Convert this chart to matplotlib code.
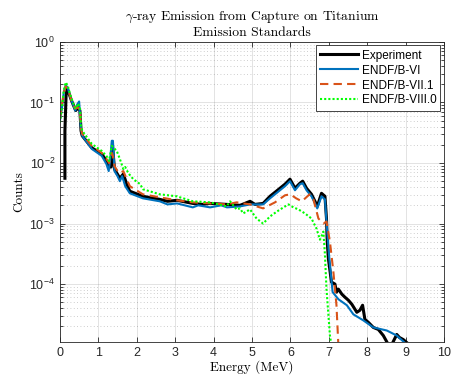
import numpy as np
import matplotlib
matplotlib.use('Agg')
import matplotlib.pyplot as plt
from matplotlib.ticker import LogLocator, NullFormatter

plt.rcParams['font.family'] = ['Liberation Sans', 'DejaVu Sans']
plt.rcParams['mathtext.fontset'] = 'custom'
plt.rcParams['mathtext.rm'] = 'Liberation Sans'
plt.rcParams['mathtext.it'] = 'Liberation Sans:italic'

# Experiment (black)
e_exp = [0.13, 0.13, 0.16, 0.19, 0.30, 0.41, 0.48, 0.52, 0.55, 0.58, 0.83, 1.09,
         1.21, 1.28, 1.33, 1.37, 1.42, 1.45, 1.56, 1.65, 1.74, 1.82, 2.16, 2.60,
         2.80, 3.05, 3.46, 3.70, 3.91, 4.35, 4.69, 4.95, 5.08, 5.29, 5.47, 5.73,
         5.86, 5.99, 6.12, 6.25, 6.32, 6.42, 6.55, 6.64, 6.70, 6.81, 6.90, 6.94,
         6.96, 6.99, 7.07, 7.16, 7.20, 7.25, 7.34, 7.42, 7.51, 7.60, 7.73, 7.81,
         7.88, 7.94, 8.03, 8.16, 8.29, 8.42, 8.55, 8.64, 8.77, 8.84, 8.94, 9.03]
c_exp = [5.6e-3, 0.0341, 0.131, 0.171, 0.108, 0.0736, 0.0825, 0.0736, 0.0341,
         0.0282, 0.0178, 0.0141, 0.0108, 0.00858, 0.00858, 0.0192, 0.00794,
         0.00736, 0.0056, 0.00656, 0.00447, 0.00342, 0.00282, 0.00251, 0.00233,
         0.00242, 0.00215, 0.00207, 0.00215, 0.00207, 0.00200, 0.00233, 0.00207,
         0.00215, 0.00282, 0.00383, 0.00447, 0.00541, 0.00383, 0.00464, 0.00501,
         0.00383, 0.00304, 0.00233, 0.00192, 0.00316, 0.00282, 0.00121, 5.0e-4,
         2.61e-4, 1.08e-4, 1.0e-4, 7.36e-5, 8.25e-5, 6.81e-5, 6.07e-5, 5.41e-5,
         4.64e-5, 3.42e-5, 3.69e-5, 4.47e-5, 2.61e-5, 2.33e-5, 1.92e-5, 1.78e-5,
         1.41e-5, 1.0e-5, 1.0e-5, 1.47e-5, 1.31e-5, 1.21e-5, 1.08e-5]

# ENDF/B-VI (blue)
e_b6 = [0.0, 0.05, 0.10, 0.15, 0.20, 0.30, 0.40, 0.45, 0.50, 0.54, 0.58, 0.83,
        1.09, 1.21, 1.27, 1.31, 1.35, 1.38, 1.42, 1.50, 1.56, 1.62, 1.70, 1.82,
        2.16, 2.60, 2.80, 3.05, 3.46, 3.60, 3.91, 4.20, 4.35, 4.69, 4.95, 5.29,
        5.47, 5.73, 5.86, 5.99, 6.12, 6.25, 6.32, 6.42, 6.55, 6.64, 6.70, 6.81,
        6.90, 6.95, 7.00, 7.03, 7.10, 7.25, 7.47, 7.64, 7.90, 8.16, 8.51, 8.77,
        9.03]
c_b6 = [0.0501, 0.0794, 0.147, 0.192, 0.178, 0.108, 0.0736, 0.0926, 0.104,
        0.0414, 0.0282, 0.0171, 0.0131, 0.00962, 0.00736, 0.0117, 0.0233,
        0.0233, 0.00736, 0.00607, 0.00501, 0.00607, 0.00414, 0.00316, 0.00261,
        0.00233, 0.00207, 0.00215, 0.00185, 0.00200, 0.00185, 0.00200, 0.00185,
        0.00192, 0.00207, 0.00207, 0.00261, 0.00355, 0.00414, 0.00501, 0.00355,
        0.00447, 0.00464, 0.00355, 0.00282, 0.00215, 0.00178, 0.00282, 0.00251,
        8.91e-4, 3.42e-4, 2.07e-4, 7.36e-5, 5.62e-5, 4.47e-5, 3.16e-5, 2.51e-5,
        1.92e-5, 1.71e-5, 1.41e-5, 1.0e-5]

# ENDF/B-VII.1 (orange)
e_b71 = [0.0, 0.05, 0.10, 0.15, 0.20, 0.30, 0.40, 0.48, 0.52, 0.55, 0.58, 0.83,
         1.09, 1.21, 1.28, 1.35, 1.38, 1.42, 1.50, 1.56, 1.65, 1.74, 1.82, 2.16,
         2.60, 3.05, 3.46, 3.91, 4.35, 4.60, 4.95, 5.29, 5.60, 5.86, 6.00, 6.15,
         6.30, 6.50, 6.60, 6.73, 6.86, 6.94, 7.03, 7.12, 7.20, 7.25]
c_b71 = [0.0541, 0.0891, 0.147, 0.185, 0.171, 0.108, 0.0794, 0.0825, 0.0736,
         0.0369, 0.0304, 0.0192, 0.0147, 0.0117, 0.0100, 0.0147, 0.0131,
         0.00891, 0.00736, 0.00681, 0.00736, 0.00541, 0.00414, 0.00304, 0.00271,
         0.00242, 0.00224, 0.00215, 0.00207, 0.00224, 0.00207, 0.00178, 0.00224,
         0.00293, 0.00304, 0.00261, 0.00233, 0.00304, 0.00251, 0.00121, 0.00100,
         0.00108, 5.0e-4, 1.58e-4, 4.47e-5, 9.6e-6]

# ENDF/B-VIII.0 (green)
e_b80 = [0.0, 0.05, 0.10, 0.15, 0.20, 0.30, 0.40, 0.48, 0.52, 0.55, 0.58, 0.83,
         1.09, 1.21, 1.28, 1.35, 1.40, 1.48, 1.56, 1.65, 1.70, 1.78, 1.91, 2.09,
         2.16, 2.60, 3.04, 3.46, 3.91, 4.34, 4.43, 4.60, 4.69, 4.77, 4.95, 5.12,
         5.29, 5.47, 5.65, 5.82, 5.95, 6.08, 6.21, 6.38, 6.55, 6.68, 6.77, 6.86,
         6.90, 6.94, 7.03, 7.07]
c_b80 = [0.0464, 0.0794, 0.158, 0.215, 0.192, 0.117, 0.0794, 0.0962, 0.0794,
         0.0414, 0.0341, 0.0207, 0.0158, 0.0131, 0.0108, 0.0192, 0.0178, 0.0158,
         0.0117, 0.00794, 0.00858, 0.00681, 0.00541, 0.00447, 0.00369, 0.00304,
         0.00282, 0.00233, 0.00224, 0.00192, 0.00233, 0.00171, 0.00178, 0.00147,
         0.00171, 0.00121, 0.00100, 0.00131, 0.00158, 0.00185, 0.00207, 0.00185,
         0.00171, 0.00147, 0.00121, 8.25e-4, 5.41e-4, 7.36e-4, 3.04e-4, 8.25e-5,
         1.41e-5, 9.6e-6]

title_lines = [r'$\gamma$-ray Emission from Capture on Titanium', 'Emission Standards']
legend_labels = ['Experiment', 'ENDF/B-VI', 'ENDF/B-VII.1', 'ENDF/B-VIII.0']


def main():
    fig = plt.figure(figsize=(4.54, 3.78), dpi=100)
    ax = fig.add_axes([0.132, 0.095, 0.846, 0.794])

    ax.plot(e_exp, c_exp, color='k', lw=2.2, label=legend_labels[0])
    ax.plot(e_b6, c_b6, color='#0072BD', lw=1.5, label=legend_labels[1])
    ax.plot(e_b71, c_b71, color='#D95319', lw=1.5, ls=(0, (4, 2.5)),
            label=legend_labels[2])
    ax.plot(e_b80, c_b80, color='#00FF00', lw=1.5, ls=(0, (1, 1)),
            label=legend_labels[3])

    ax.set_yscale('log')
    ax.set_xlim(0, 10)
    ax.set_ylim(1.1e-5, 1)
    ax.set_xticks(np.arange(0, 11, 1))
    ax.yaxis.set_major_locator(LogLocator(base=10, numticks=10))
    ax.yaxis.set_minor_locator(LogLocator(base=10, subs=np.arange(2, 10), numticks=20))
    ax.yaxis.set_minor_formatter(NullFormatter())

    ax.grid(True, which='major', color='#262626', alpha=0.15, lw=0.6)
    ax.grid(True, which='minor', axis='y', color='#262626', alpha=0.3,
            lw=0.6, ls=(0, (1, 3)))
    ax.tick_params(which='both', direction='in', top=True, right=True,
                   colors='#262626', labelsize=9, width=0.6)
    ax.tick_params(which='major', length=3.5)
    ax.tick_params(which='minor', length=2)
    for sp in ax.spines.values():
        sp.set_color('#262626')
        sp.set_linewidth(0.6)

    ax.set_title('\n'.join(title_lines), fontsize=9.8, family='cmr10',
                 math_fontfamily='cm', color='k', linespacing=1.2, pad=4)
    ax.set_xlabel('Energy (MeV)', fontsize=9.5, family='cmr10', labelpad=1)
    ax.set_ylabel('Counts', fontsize=9.5, family='cmr10', labelpad=3)

    leg = ax.legend(loc='upper right', fontsize=8.5, handlelength=3.2,
                    borderaxespad=0.3, labelspacing=0.25, fancybox=False,
                    framealpha=1, edgecolor='#262626', borderpad=0.35,
                    handletextpad=0.3)
    leg.get_frame().set_linewidth(0.6)

    fig.savefig('out.png', dpi=100)


if __name__ == "__main__":
    main()
